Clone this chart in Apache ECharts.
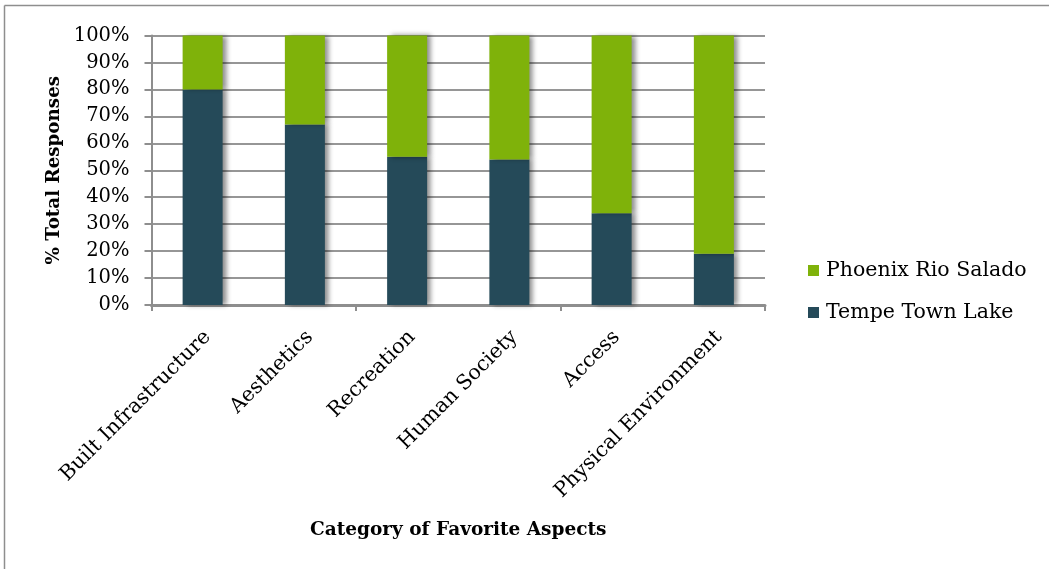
<!DOCTYPE html>
<html>
<head>
<meta charset="utf-8">
<script src="https://cdn.jsdelivr.net/npm/echarts@6/dist/echarts.min.js"></script>
<style>
html,body{margin:0;padding:0;background:#fff;}
#chart{width:1049px;height:569px;}
</style>
</head>
<body>
<div id="chart"></div>
<script>
var categories = ['Built Infrastructure', 'Aesthetics', 'Recreation', 'Human Society', 'Access', 'Physical Environment'];
var tempeTownLake = [80, 67, 55, 54, 34, 19];
var phoenixRioSalado = [20, 33, 45, 46, 66, 81];
var seriesNames = ['Tempe Town Lake', 'Phoenix Rio Salado'];
var legendOrder = ['Phoenix Rio Salado', 'Tempe Town Lake'];
var xAxisTitle = 'Category of Favorite Aspects';
var yAxisTitle = '% Total Responses';

var FONT = 'DejaVu Serif';
var chart = echarts.init(document.getElementById('chart'), null, {renderer: 'canvas'});
var shadow = {shadowColor: 'rgba(0,0,0,0.45)', shadowBlur: 5, shadowOffsetX: 4, shadowOffsetY: 0};

chart.setOption({
  animation: false,
  backgroundColor: '#ffffff',
  textStyle: {fontFamily: FONT},
  grid: [
    {left: 151.5, right: 284, top: 35.5, bottom: 264, containLabel: false},
    {left: 156.5, right: 279, top: 35.5, bottom: 264, containLabel: false}
  ],
  legend: {
    data: legendOrder,
    orient: 'vertical',
    left: 803,
    top: 255,
    itemWidth: 11,
    itemHeight: 11,
    itemGap: 21,
    icon: 'rect',
    textStyle: {fontFamily: FONT, fontSize: 20.5, color: '#000', lineHeight: 20, padding: [0, 0, 0, 2]}
  },
  xAxis: [
    {
      type: 'category',
      gridIndex: 0,
      data: categories,
      axisLine: {show: true, lineStyle: {color: '#8e8e8e', width: 3}},
      axisTick: {show: true, length: 6, lineStyle: {color: '#8e8e8e', width: 2}},
      axisLabel: {show: false},
      name: xAxisTitle,
      nameLocation: 'middle',
      nameGap: 216,
      nameTextStyle: {fontFamily: FONT, fontSize: 18.5, fontWeight: 'bold', color: '#000'}
    },
    {
      type: 'category',
      gridIndex: 1,
      data: categories,
      axisLine: {show: false},
      axisTick: {show: false},
      axisLabel: {show: true, rotate: 45, margin: 29, fontFamily: FONT, fontSize: 20.5, color: '#000', interval: 0}
    }
  ],
  yAxis: [
    {
      type: 'value',
      gridIndex: 0,
      min: 0,
      max: 100,
      interval: 10,
      axisLine: {show: true, lineStyle: {color: '#8e8e8e', width: 2}},
      axisTick: {show: true, length: 7, lineStyle: {color: '#8e8e8e', width: 2}},
      splitLine: {show: true, lineStyle: {color: '#969696', width: 2}},
      axisLabel: {formatter: '{value}%', margin: 22, fontFamily: FONT, fontSize: 19.5, color: '#000'},
      name: yAxisTitle,
      nameLocation: 'middle',
      nameGap: 88,
      nameTextStyle: {fontFamily: FONT, fontSize: 18.3, fontWeight: 'bold', color: '#000'}
    },
    {
      type: 'value',
      gridIndex: 1,
      min: 0,
      max: 100,
      show: false
    }
  ],
  series: [
    {
      name: seriesNames[0],
      type: 'bar',
      stack: 'total',
      barWidth: 40,
      data: tempeTownLake,
      itemStyle: Object.assign({color: '#254a59'}, shadow)
    },
    {
      name: seriesNames[1],
      type: 'bar',
      stack: 'total',
      barWidth: 40,
      data: phoenixRioSalado,
      itemStyle: Object.assign({color: '#7fb20a'}, shadow)
    }
  ],
  graphic: [
    {type: 'line', shape: {x1: 4.5, y1: 5.5, x2: 1049, y2: 5.5}, style: {stroke: '#8e8e8e', lineWidth: 1.5}, silent: true},
    {type: 'line', shape: {x1: 4.5, y1: 5.5, x2: 4.5, y2: 569}, style: {stroke: '#8e8e8e', lineWidth: 1.5}, silent: true}
  ]
});
</script>
</body>
</html>
